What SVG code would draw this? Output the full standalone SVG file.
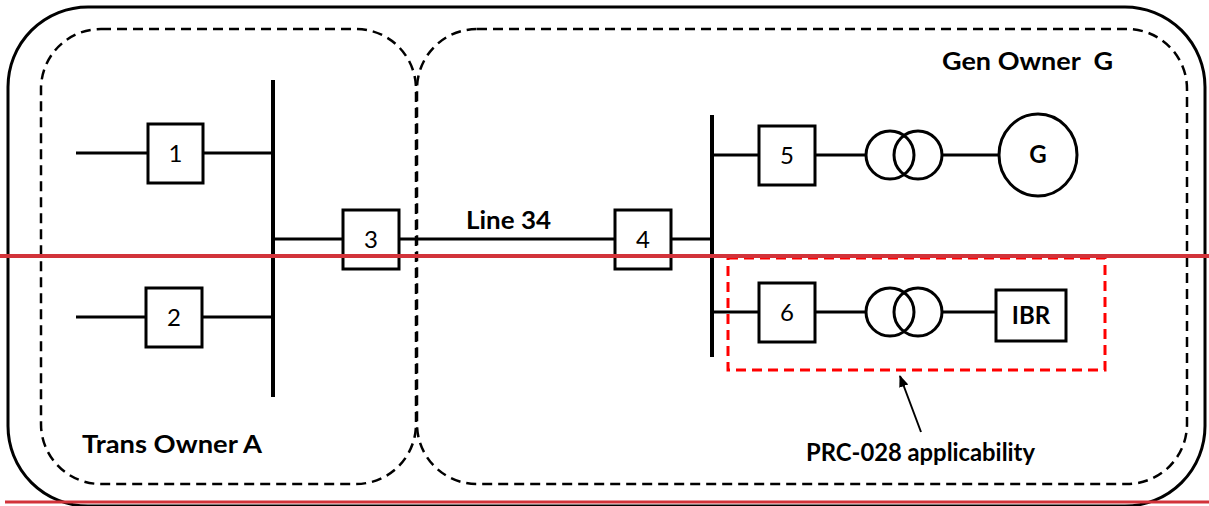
<svg xmlns="http://www.w3.org/2000/svg" width="1209" height="506" viewBox="0 0 1209 506">
<style>
.ln{stroke:#000;stroke-width:3;fill:none}
.bus{stroke:#000;stroke-width:4;fill:none}
.box{stroke:#000;stroke-width:3;fill:#fff}
.dash{stroke:#000;stroke-width:2.5;fill:none;stroke-dasharray:10 6}
.num{font-family:Lato,"Open Sans",sans-serif;font-size:24px;text-anchor:middle;fill:#000}
.lbl{font-family:Lato,"Open Sans",sans-serif;font-size:24px;font-weight:bold;fill:#000}
.red{stroke:#d2333a;fill:none}
</style>
<defs>
<marker id="ah" viewBox="0 0 10 10" refX="9" refY="5" markerWidth="6" markerHeight="6" orient="auto">
<path d="M0,1 L10,5 L0,9 z" fill="#000"/>
</marker>
</defs>
<rect width="1209" height="506" fill="#fff"/>
<g id="outer"><rect x="8" y="7" width="1197" height="499" rx="80" ry="80" class="ln"/></g>
<g id="zoneA"><rect x="41" y="29" width="375" height="455" rx="60" ry="60" class="dash"/>
<text class="lbl" x="82" y="453" textLength="180" lengthAdjust="spacingAndGlyphs">Trans Owner A</text></g>
<g id="zoneG"><rect x="417" y="29" width="770" height="455" rx="60" ry="60" class="dash"/>
<text class="lbl" x="942" y="70" textLength="171" lengthAdjust="spacingAndGlyphs" xml:space="preserve">Gen Owner  G</text></g>
<g id="connectors">
<line x1="273" y1="80" x2="273" y2="397" class="bus"/>
<line x1="712" y1="115" x2="712" y2="357" class="bus"/>
<line x1="76" y1="153" x2="148" y2="153" class="ln"/>
<line x1="203" y1="153" x2="273" y2="153" class="ln"/>
<line x1="76" y1="317" x2="146" y2="317" class="ln"/>
<line x1="202" y1="317" x2="273" y2="317" class="ln"/>
<line x1="273" y1="239" x2="343" y2="239" class="ln"/>
<line x1="399" y1="239" x2="615" y2="239" class="ln"/>
<line x1="671" y1="239" x2="712" y2="239" class="ln"/>
<line x1="712" y1="155" x2="759" y2="155" class="ln"/>
<line x1="815" y1="155" x2="866" y2="155" class="ln"/>
<line x1="942" y1="155" x2="999" y2="155" class="ln"/>
<line x1="712" y1="312" x2="759" y2="312" class="ln"/>
<line x1="815" y1="312" x2="866" y2="312" class="ln"/>
<line x1="942" y1="312" x2="996" y2="312" class="ln"/>
<line x1="921" y1="432" x2="900" y2="376" stroke="#000" stroke-width="2" marker-end="url(#ah)"/>
</g>
<g id="n1"><rect x="148" y="124" width="55" height="59" class="box"/><text class="num" x="175.5" y="162">1</text></g>
<g id="n2"><rect x="146" y="288" width="56" height="59" class="box"/><text class="num" x="174" y="326">2</text></g>
<g id="n3"><rect x="343" y="210" width="56" height="59" class="box"/><text class="num" x="371" y="248">3</text></g>
<g id="n4"><rect x="615" y="210" width="56" height="59" class="box"/><text class="num" x="643" y="248">4</text></g>
<g id="n5"><rect x="759" y="126" width="56" height="59" class="box"/><text class="num" x="787" y="164">5</text></g>
<g id="n6"><rect x="759" y="283" width="56" height="59" class="box"/><text class="num" x="787" y="321">6</text></g>
<g id="t1"><circle cx="890" cy="155" r="24" class="ln"/><circle cx="918" cy="155" r="24" class="ln"/></g>
<g id="t2"><circle cx="890" cy="312" r="24" class="ln"/><circle cx="918" cy="312" r="24" class="ln"/></g>
<g id="gen"><ellipse cx="1038" cy="155" rx="39" ry="41" class="ln"/><text class="lbl" x="1038" y="163" text-anchor="middle">G</text></g>
<g id="ibr"><rect x="996" y="290" width="70" height="51" class="box"/><text class="lbl" x="1031" y="324" text-anchor="middle">IBR</text></g>
<g id="line34"><text class="lbl" x="466" y="229" textLength="85" lengthAdjust="spacingAndGlyphs">Line 34</text></g>
<g id="prc"><rect x="728" y="258" width="377" height="112" fill="none" stroke="#ff0000" stroke-width="3" stroke-dasharray="10 6"/>
<text class="lbl" x="806" y="461" font-size="21" textLength="229" lengthAdjust="spacingAndGlyphs">PRC-028 applicability</text></g>
<g id="redlines">
<line x1="0" y1="256" x2="1209" y2="256" class="red" stroke-width="4"/>
<line x1="5" y1="502" x2="1209" y2="502" class="red" stroke-width="3"/>
</g>
</svg>
